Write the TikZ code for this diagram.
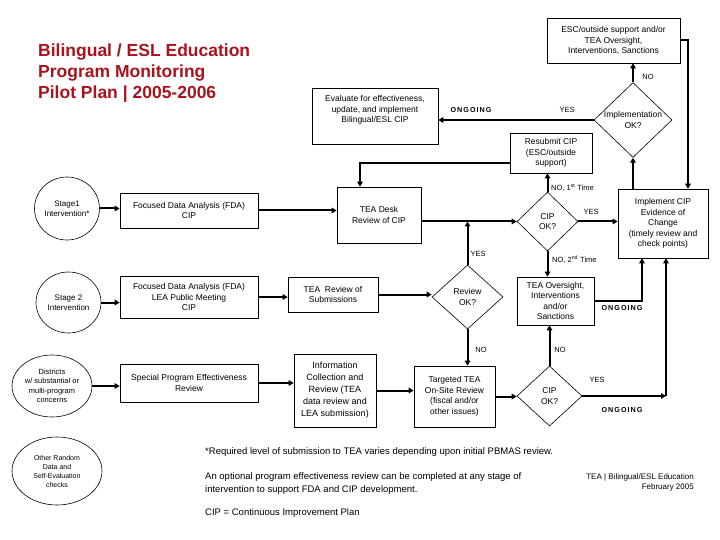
\documentclass[tikz,border=0pt]{standalone}
\usepackage{fontspec}
\setmainfont{Liberation Sans}
\newfontfamily\ongfont[LetterSpace=14]{Liberation Sans}
\usetikzlibrary{arrows.meta,shapes.geometric,calc}
\definecolor{titlered}{HTML}{A8141E}
\begin{document}
\begin{tikzpicture}[x=1pt,y=-1pt,
 box/.style={draw,line width=0.6pt,align=center,inner sep=1pt,font=\fontsize{8.5}{10.5}\selectfont},
 dia/.style={diamond,draw,line width=0.6pt,align=center,inner sep=0pt,font=\fontsize{8.5}{10.5}\selectfont},
 ell/.style={ellipse,draw,line width=0.6pt,align=center,inner sep=0pt,font=\fontsize{8}{10}\selectfont},
 arr/.style={line width=2pt,-{Triangle[length=5pt,width=5.5pt]}},
 lab/.style={font=\fontsize{7.5}{9}\selectfont,inner sep=0pt},
 ong/.style={font=\ongfont\bfseries\fontsize{7.2}{9}\selectfont,inner sep=0pt},
 note/.style={font=\fontsize{9.5}{13}\selectfont,inner sep=0pt,align=left,anchor=west},
]
\useasboundingbox (0,0) rectangle (720,540);
\fill[white] (0,0) rectangle (720,540);

\node[anchor=north west,inner sep=0pt,align=left,text=titlered,font=\bfseries\fontsize{17.5}{21}\selectfont] (title) at (38,44) {Bilingual / ESL Education\\Program Monitoring\\Pilot Plan | 2005-2006};

% nodes
\node[box,minimum width=133,minimum height=45] (esc) at (613.5,40.5) {ESC/outside support and/or\\TEA Oversight,\\Interventions, Sanctions};
\node[dia,minimum width=78,minimum height=70] (impok) at (633,120) {Implementation\\OK?};
\node[box,minimum width=126,minimum height=56] (eval) at (375,116) {};
\node[font=\fontsize{8.5}{10.5}\selectfont,align=center,inner sep=0pt] (evalt) at (375,110) {Evaluate for effectiveness,\\update, and implement\\Bilingual/ESL CIP};
\node[box,minimum width=82,minimum height=40] (resub) at (551,153) {Resubmit CIP\\(ESC/outside\\support)};
\node[box,minimum width=90,minimum height=69] (impl) at (663,223.5) {Implement CIP\\Evidence of\\Change\\(timely review and\\check points)};
\node[box,minimum width=84,minimum height=56] (desk) at (379,215) {TEA Desk\\Review of CIP};
\node[dia,minimum width=61,minimum height=59] (cip1) at (547.5,221.5) {CIP\\OK?};
\node[box,minimum width=138,minimum height=35] (fda1) at (189,210.5) {Focused Data Analysis (FDA)\\CIP};
\node[ell,minimum width=65,minimum height=63] (st1) at (67,208.5) {Stage1\\Intervention*};
\node[ell,minimum width=65,minimum height=61] (st2) at (68.5,302.5) {Stage 2\\Intervention};
\node[box,minimum width=138,minimum height=42] (fda2) at (189,297) {Focused Data Analysis (FDA)\\LEA Public Meeting\\CIP};
\node[box,minimum width=90,minimum height=35] (rev) at (333,294.5) {TEA\ \ Review of\\Submissions};
\node[dia,minimum width=71,minimum height=64] (revok) at (467.5,297) {Review\\OK?};
\node[box,minimum width=77,minimum height=48] (over) at (555.5,301) {TEA Oversight,\\Interventions\\and/or\\Sanctions};
\node[ell,minimum width=80,minimum height=62,font=\fontsize{7.5}{9.5}\selectfont] (dist) at (52,386) {Districts\\w/ substantial or\\multi-program\\concerns};
\node[box,minimum width=138,minimum height=38] (spec) at (189,383) {Special Program Effectiveness\\Review};
\node[box,minimum width=82,minimum height=73,font=\fontsize{9}{12}\selectfont] (info) at (335,390.5) {Information\\Collection and\\Review (TEA\\data review and\\LEA submission)};
\node[box,minimum width=81,minimum height=61] (targ) at (454.5,396.5) {Targeted TEA\\On-Site Review\\(fiscal and/or\\other issues)};
\node[dia,minimum width=65,minimum height=60] (cip2) at (549.5,396) {CIP\\OK?};
\node[ell,minimum width=90,minimum height=68,font=\fontsize{7}{9}\selectfont] (other) at (57,471) {Other Random\\Data and\\Self-Evaluation\\checks};

% connectors
\draw[arr] (esc.east) -| ([xshift=25pt]impl.north);
\draw[arr] (impok.north) -- (impok.north |- esc.south);
\draw[arr] (impok.west) -- (impok.west -| eval.east);
\draw[arr] (impok.south |- impl.north) -- (impok.south);
\draw[arr] ([yshift=-10pt]resub.west) -| ([xshift=-19pt]desk.north);
\draw[arr] (cip1.north) -- (cip1.north |- resub.south);
\draw[arr] (fda1.east) -- (fda1.east -| desk.west);
\draw[arr] (desk.east |- cip1.west) -- (cip1.west);
\draw[arr] (revok.north) -- (revok.north |- cip1.west);
\draw[arr] (cip1.east) -- (cip1.east -| impl.west);
\draw[arr] (cip1.south) -- (cip1.south |- over.north);
\draw[arr] (st1.east) -- (st1.east -| fda1.west);
\draw[arr] (st2.east) -- (st2.east -| fda2.west);
\draw[arr] (dist.east) -- (dist.east -| spec.west);
\draw[arr] (fda2.east) -- (fda2.east -| rev.west);
\draw[arr] (rev.east) -- (rev.east -| revok.west);
\draw[arr] (revok.south) -- (revok.south |- targ.north);
\draw[arr] (spec.east) -- (spec.east -| info.west);
\draw[arr] (info.east) -- (info.east -| targ.west);
\draw[arr] (targ.east) -- (targ.east -| cip2.west);
\draw[arr] (cip2.north) -- (cip2.north |- over.south);
\draw[arr] (over.east) -| ([xshift=-21pt]impl.south);
\coordinate (k2) at (666,396);
\draw[arr] (cip2.east) -- (k2);
\draw[arr] (k2) -- (k2 |- impl.south);

% labels
\node[lab] (l1) at (648,77) {NO};
\node[lab] (l2) at (567,110) {YES};
\node[ong] (l3) at (471,110) {ONGOING};
\node[lab,anchor=west] (l4) at (551,188) {NO, 1\textsuperscript{st} Time};
\node[lab] (l5) at (591,212) {YES};
\node[lab] (l6) at (478,254) {YES};
\node[lab,anchor=west] (l7) at (552,260) {NO, 2\textsuperscript{nd} Time};
\node[ong] (l8) at (622,308) {ONGOING};
\node[lab] (l9) at (481,350) {NO};
\node[lab] (l10) at (560,350) {NO};
\node[lab] (l11) at (597,380) {YES};
\node[ong] (l12) at (622,410) {ONGOING};

% notes
\node[note] (n1) at (205,452) {*Required level of submission to TEA varies depending upon initial PBMAS review.};
\node[note] (n2) at (205,483.5) {An optional program effectiveness review can be completed at any stage of\\intervention to support FDA and CIP development.};
\node[note] (n3) at (205,513) {CIP = Continuous Improvement Plan};
\node[font=\fontsize{8}{10}\selectfont,align=right,anchor=east,inner sep=0pt] (n4) at (694,482) {TEA | Bilingual/ESL Education\\February 2005};
\end{tikzpicture}
\end{document}
